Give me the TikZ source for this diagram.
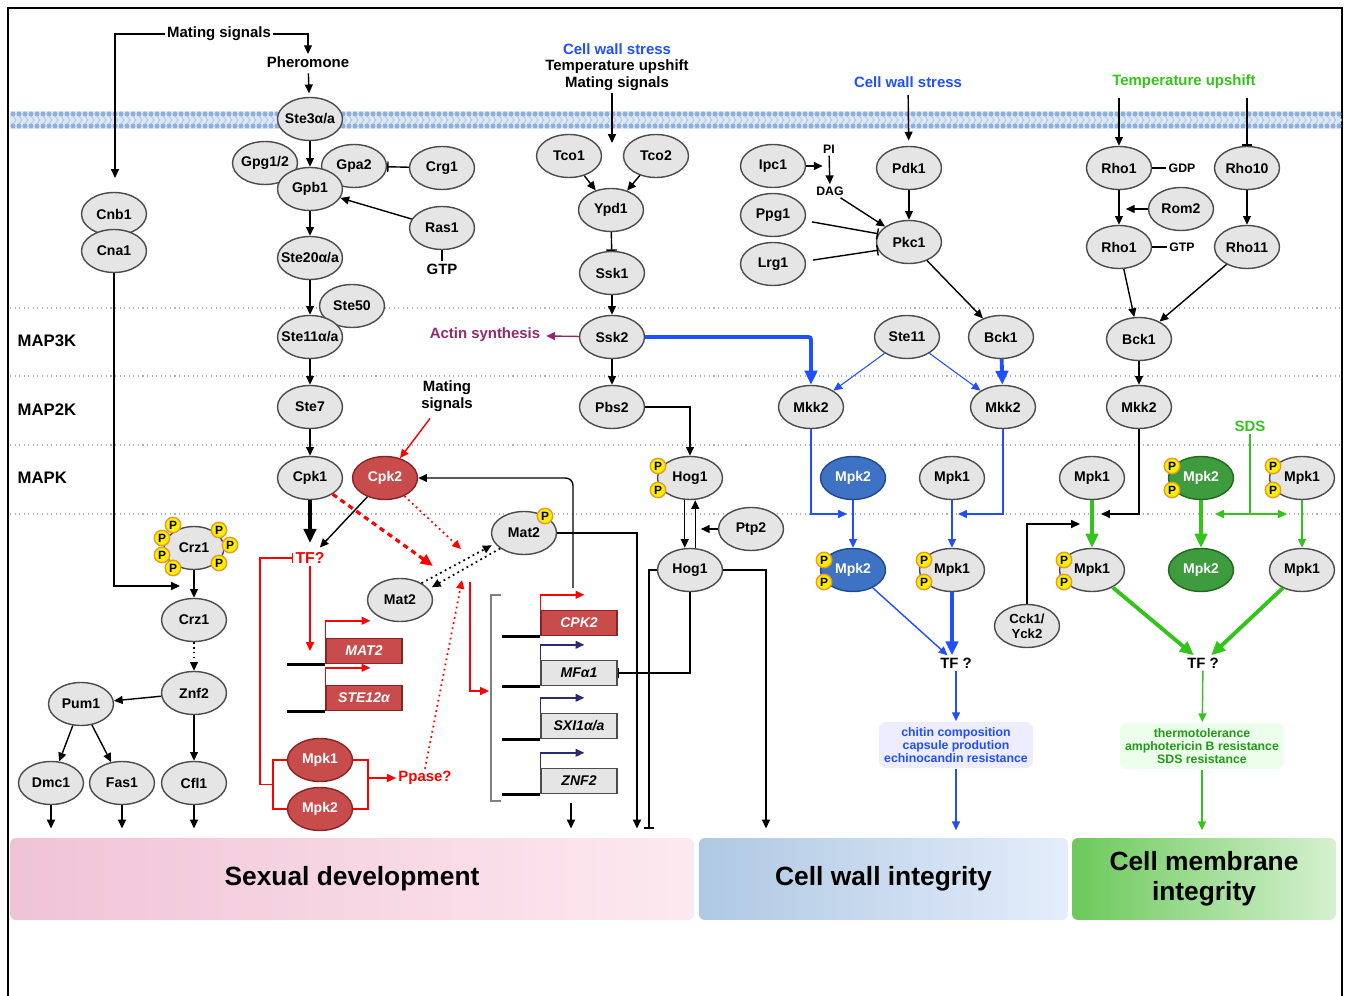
\documentclass[tikz,border=0pt]{standalone}
\usepackage{fontspec}
\setmainfont{Liberation Sans}
\usetikzlibrary{arrows.meta,shapes.geometric,calc}

\definecolor{memb}{HTML}{8FB0DC}
\definecolor{membl}{HTML}{DCE7F5}
\definecolor{cpkred}{HTML}{C94C4C}
\definecolor{cpkdark}{HTML}{8A2424}
\definecolor{cwblue}{HTML}{1F4FFF}
\definecolor{mpkblue}{HTML}{3E72C4}
\definecolor{mpkbluedark}{HTML}{1D4A8C}
\definecolor{cmgreen}{HTML}{33C41A}
\definecolor{mpkgreen}{HTML}{3E9B3E}
\definecolor{mpkgreendark}{HTML}{1F6A1F}
\definecolor{actin}{HTML}{8C2C6E}
\definecolor{pyellow}{HTML}{FFEE00}
\definecolor{porange}{HTML}{E39B2E}
\definecolor{promnavy}{HTML}{2A2A6E}
\definecolor{txtgreen}{HTML}{229A18}
\definecolor{sexL}{HTML}{F0C3D6}
\definecolor{sexR}{HTML}{FDE9F0}
\definecolor{cwL}{HTML}{AFC8E2}
\definecolor{cwR}{HTML}{E4EDFB}
\definecolor{cmL}{HTML}{6CC95A}
\definecolor{cmR}{HTML}{D6F1D1}

\begin{document}
\begin{tikzpicture}[x=0.02cm, y=-0.02cm, line width=0.8pt,
    >={Triangle[length=5pt,width=4.5pt]},
    main/.style = {draw=black!70, fill=black!10, ellipse, minimum width=1.3cm, minimum height=0.86cm, inner ysep=0pt, inner xsep=-6pt, font=\bfseries\fontsize{8}{9}\selectfont},
    redmain/.style = {main, fill=cpkred, draw=cpkdark, text=white},
    bluemain/.style = {main, fill=mpkblue, draw=mpkbluedark, text=white},
    greenmain/.style = {main, fill=mpkgreen, draw=mpkgreendark, text=white},
    phos/.style = {circle, draw=porange, fill=pyellow, line width=0.8pt, minimum size=0.31cm, inner sep=0pt, font=\bfseries\fontsize{6.8}{7}\selectfont},
    lbl/.style = {font=\bfseries\fontsize{8.5}{10}\selectfont, inner sep=1pt, align=center},
    maplbl/.style = {font=\bfseries\fontsize{9.5}{11}\selectfont, inner sep=0pt, anchor=west},
    smalltxt/.style = {font=\bfseries\fontsize{7}{8}\selectfont, inner sep=1pt},
    gene/.style = {draw=black!70, fill=black!10, minimum width=1.52cm, minimum height=0.5cm, inner sep=0pt, font=\bfseries\itshape\fontsize{8}{9}\selectfont},
    redgene/.style = {gene, fill=cpkred, draw=cpkdark, text=white},
    thk/.style = {line width=2.2pt, -{Triangle[length=8pt,width=7pt]}},
    tee/.style = {-{Bar[width=6pt]}},
    tierline/.style = {gray!60, dotted, line width=0.6pt},
    resbox/.style = {rounded corners=0.15cm, inner sep=3pt, align=center, font=\bfseries\fontsize{7}{7.6}\selectfont},
    outcome/.style = {rounded corners=0.12cm, minimum height=1.64cm, inner sep=0pt, align=center, font=\bfseries\fontsize{15}{17}\selectfont}
]
\useasboundingbox (0,0) rectangle (1346,996);
\draw[line width=1.3pt] (8,996) -- (8,8) -- (1342,8) -- (1342,996);

% membrane
\fill[membl] (10,111) rectangle (1340,129);
\foreach \x in {13,19,...,1339} {
    \fill[memb] (\x,114) circle (0.05cm);
    \fill[memb] (\x,126) circle (0.05cm);
    \draw[memb!80, line width=0.35pt] (\x,116) -- (\x+3,120) -- (\x,124);
}

% kinase tiers
\foreach \y in {308,376,445,514} \draw[tierline] (10,\y) -- (1340,\y);
\node[maplbl] (map3k) at (17,341) {MAP3K};
\node[maplbl] (map2k) at (17,410) {MAP2K};
\node[maplbl] (mapk) at (17,478) {MAPK};

% outcomes
\node[outcome, left color=sexL, right color=sexR, minimum width=13.68cm] (sexbar) at (352,879) {Sexual development};
\node[outcome, left color=cwL, right color=cwR, minimum width=7.38cm] (cwbar) at (883.5,879) {Cell wall integrity};
\node[outcome, left color=cmL, right color=cmR, minimum width=5.28cm] (cmbar) at (1204,879) {Cell membrane\\integrity};

% pheromone pathway
\node[lbl] (mating) at (219,34) {Mating signals};
\node[lbl] (phero) at (308,62) {Pheromone};
\node[main] (ste3) at (310,119) {Ste3α/a};
\node[main] (gpg) at (265,163) {Gpg1/2};
\node[main] (gpa) at (354,166) {Gpa2};
\node[main] (gpb) at (310,189) {Gpb1};
\node[main] (crg) at (442,168) {Crg1};
\node[main] (ras) at (442,228) {Ras1};
\node[lbl] (gtp1) at (442,269) {GTP};
\node[main] (ste20) at (310,258) {Ste20α/a};
\node[main] (ste50) at (352,306) {Ste50};
\node[main] (ste11a) at (310,337) {Ste11α/a};
\node[main] (ste7) at (310,407) {Ste7};
\node[main] (cpk1) at (310,478) {Cpk1};
\node[redmain] (cpk2) at (385,478) {Cpk2};
\node[lbl] (mating2) at (447,396) {Mating\\signals};
\node[lbl, text=red, font=\bfseries\fontsize{9}{10}\selectfont] (tf1) at (310,558) {TF?};
\node[main] (mat2) at (400,600) {Mat2};
\node[main] (mat2p) at (524,533) {Mat2};
\node[phos] (mat2pp) at (545,516) {P};
\node[redmain] (mpk1r) at (320,760) {Mpk1};
\node[redmain] (mpk2r) at (320,809) {Mpk2};
\node[lbl, text=red] (ppase) at (425,778) {Ppase?};

\coordinate (cnbin) at (115,178);
\draw[->] (mating.west) -| (cnbin);
\draw[->] (mating.east) -| (phero.north);
\draw[->, shorten <=2pt, shorten >=2pt] (phero) -- (ste3);
\draw[->] (ste3) -- (gpb);
\draw[tee] (crg) -- (gpa);
\draw[->] (ras) -- (gpb);
\draw (ras) -- (gtp1);
\draw[->] (gpb) -- (ste20);
\draw[->] (ste20) -- (ste11a);
\draw[->] (ste11a) -- (ste7);
\draw[->] (ste7) -- (cpk1);
\draw[->, red, shorten <=3pt] (mating2) -- (cpk2);
\draw[thk, shorten >=4pt] (cpk1) -- (tf1);
\draw[->, shorten >=2pt] (cpk2) -- (tf1);
\coordinate (matx1) at (433,566);
\coordinate (matx2) at (461,549);
\draw[red, line width=1.8pt, dash pattern=on 3pt off 2.5pt, -{Triangle[length=7pt,width=6pt]}] (cpk1) -- (matx1);
\draw[red, dotted, line width=1pt, ->] (cpk2) -- (matx2);
\draw[dotted, line width=1pt, ->, shorten >=2pt] (mat2.38) -- (mat2p.200);
\draw[dotted, line width=1pt, ->, shorten >=2pt] (mat2p.213) -- (mat2.21);

% pheromone responsive genes
\node[redgene] (g_mat2) at (364,651) {MAT2};
\node[redgene] (g_ste12) at (364,698) {STE12α};
\node[redgene] (g_cpk2) at (579,623) {CPK2};
\node[gene] (g_mfa) at (579,673) {MFα1};
\node[gene] (g_sxi) at (579,726) {SXI1α/a};
\node[gene] (g_znf) at (579,781) {ZNF2};
\foreach \g in {g_mat2,g_ste12} {
    \draw[line width=1.6pt] (\g.south west) -- ++(-38,0);
    \draw[red, ->] (\g.north west) |- ++(45,-17);
}
\foreach \g/\c in {g_cpk2/red,g_mfa/promnavy,g_sxi/promnavy,g_znf/promnavy} {
    \draw[line width=1.6pt] (\g.south west) -- ++(-38,0);
    \draw[\c, ->] (\g.north west) |- ++(44,-15);
}
\draw[gray, line width=1pt] ($(g_cpk2.north west)+(-39,-15)$) -- ++(-10,0) |- ($(g_znf.south west)+(-39,7)$);
\draw[red, ->] (tf1.south) -- (tf1.south |- g_mat2.west);
\coordinate (brL) at ($(mpk1r.west)!0.5!(mpk2r.west)+(-14,0)$);
\coordinate (brR) at ($(mpk1r.east)+(15,0)$);
\draw[red] (mpk1r.west) -- ++(-14,0) |- (mpk2r.west);
\draw[red] (mpk1r.east) -- (brR) |- (mpk2r.east);
\draw[red, tee] (brL) -- ++(-13,0) |- (tf1.west);
\draw[red, ->] (brR |- ppase.west) -- (ppase.west);
\coordinate (ppaseend) at (462,580);
\draw[red, dotted, line width=1pt, ->] (ppase.north) -- (ppaseend);
\coordinate (redtop) at (470,582);
\coordinate (brkin) at (489,691);
\draw[red, ->] (redtop) |- (brkin);
\coordinate (cpkfb) at (573,588);
\draw[->, rounded corners=0.15cm] (cpkfb) |- (cpk2);
\coordinate (genesout) at (571,803);
\draw[->, shorten >=5pt] (genesout) -- (genesout |- sexbar.north);
\draw[->, shorten >=5pt] (mat2p.east) -| ($(sexbar.north)+(285,0)$);

% calcineurin pathway
\node[main] (cnb1) at (114,214) {Cnb1};
\node[main] (cna1) at (114,251) {Cna1};
\node[main, minimum width=1.2cm] (crz1p) at (194,548) {Crz1};
\foreach \px/\py [count=\i] in {173/525,162/538,162/555,173/568,219/530,230/545,219/563}
    \node[phos] (crzp\i) at (\px,\py) {P};
\node[main] (crz1) at (194,620) {Crz1};
\node[main] (znf2) at (194,693) {Znf2};
\node[main] (pum1) at (81,704) {Pum1};
\node[main] (dmc1) at (51,783) {Dmc1};
\node[main] (fas1) at (122,783) {Fas1};
\node[main] (cfl1) at (194,783) {Cfl1};
\coordinate (crzjoin) at (180,586);
\draw[->] (cna1) |- (crzjoin);
\draw[->] (crz1p) -- (crz1);
\draw[->, dotted] (crz1) -- (znf2);
\draw[->] (znf2) -- (pum1);
\draw[->] (pum1) -- (dmc1);
\draw[->] (pum1) -- (fas1);
\draw[->] (znf2) -- (cfl1);
\foreach \n in {dmc1,fas1,cfl1}
    \draw[->, shorten >=5pt] (\n.south) -- (\n.south |- sexbar.north);

% HOG pathway
\node[lbl, text=cwblue] (cws1) at (617,49) {Cell wall stress};
\node[lbl] (temp1) at (617,67) {Temperature upshift};
\node[lbl] (mate3) at (617,84) {Mating signals};
\node[main] (tco1) at (569,156) {Tco1};
\node[main] (tco2) at (656,156) {Tco2};
\node[main] (ypd1) at (611,210) {Ypd1};
\node[main] (ssk1) at (612,273) {Ssk1};
\node[main] (ssk2) at (612,337) {Ssk2};
\node[main] (pbs2) at (612,407) {Pbs2};
\node[lbl, text=actin] (actin) at (485,335) {Actin synthesis};
\node[main] (hog1p) at (690,478) {Hog1};
\node[phos] (hogp1) at (658,466) {P};
\node[phos] (hogp2) at (658,490) {P};
\node[main] (hog1) at (690,570) {Hog1};
\node[main] (ptp2) at (751,529) {Ptp2};
\coordinate (tcoin) at (612,143);
\draw[->] (mate3.south -| tcoin) -- (tcoin);
\draw[->] (tco1) -- (ypd1);
\draw[->] (tco2) -- (ypd1);
\draw[tee] (ypd1) -- (ssk1);
\draw[->] (ssk1) -- (ssk2);
\draw[->] (ssk2) -- (pbs2);
\draw[->, actin, shorten >=2pt] (ssk2) -- (actin);
\draw[->] (pbs2.east) -| (hog1p.north);
\draw[->] ([xshift=-3pt]hog1p.south) -- ([xshift=-3pt]hog1.north);
\draw[->] ([xshift=3pt]hog1.north) -- ([xshift=3pt]hog1p.south);
\draw[->] (ptp2.west) -- ++(-17,0);
\draw[tee] (hog1.south) |- (g_mfa.east);
\draw[tee, shorten >=5pt] (hog1.west) -| ($(sexbar.north)+(297,0)$);
\draw[->, shorten >=5pt] (hog1.east) -| ($(cwbar.north)+(-117.5,0)$);

% cell wall integrity pathway
\node[lbl, text=cwblue] (cws2) at (908,82) {Cell wall stress};
\node[main] (ipc1) at (773,166) {Ipc1};
\node[main] (ppg1) at (773,215) {Ppg1};
\node[main] (lrg1) at (773,264) {Lrg1};
\node[smalltxt] (pi) at (829,149) {PI};
\node[smalltxt] (dag) at (830,191) {DAG};
\node[main] (pdk1) at (909,168) {Pdk1};
\node[main] (pkc1) at (909,242) {Pkc1};
\node[main] (ste11) at (907,337) {Ste11};
\node[main] (bck1a) at (1001,337) {Bck1};
\node[main] (mkk2a) at (811,407) {Mkk2};
\node[main] (mkk2b) at (1003,407) {Mkk2};
\node[bluemain] (mpk2a) at (853,478) {Mpk2};
\node[bluemain] (mpk2ap) at (853,570) {Mpk2};
\node[phos] (mpk2app1) at (824,560) {P};
\node[phos] (mpk2app2) at (824,582) {P};
\node[main] (mpk1a) at (952,478) {Mpk1};
\node[main] (mpk1ap) at (952,570) {Mpk1};
\node[phos] (mpk1app1) at (924,560) {P};
\node[phos] (mpk1app2) at (924,582) {P};
\node[lbl] (tf2) at (956,663) {TF ?};
\node[resbox, fill=blue!7, text=cwblue] (cwout) at (956,745) {chitin composition\\capsule prodution\\echinocandin resistance};
\draw[->, shorten >=2pt] (ipc1.east) -- ++(20,0);
\draw[->] (pi) -- (dag);
\draw[->] (dag) -- (pkc1);
\draw[tee, shorten <=4pt] (ppg1.-10) -- (pkc1.165);
\draw[tee, shorten <=4pt] (lrg1.5) -- (pkc1.195);
\draw[->, shorten <=3pt, shorten >=3pt] (cws2) -- (pdk1);
\draw[->] (pdk1) -- (pkc1);
\draw[->] (pkc1) -- (bck1a);
\draw[cwblue, thk, rounded corners=0.05cm] (ssk2.east) -| (mkk2a.north);
\draw[->, cwblue, line width=0.6pt] (ste11) -- (mkk2a);
\draw[->, cwblue, line width=0.6pt] (ste11) -- (mkk2b);
\draw[cwblue, thk] (bck1a) -- (mkk2b);
\coordinate (cwj1) at (847,514);
\coordinate (cwj2) at (958,514);
\draw[->, cwblue] (mkk2a.south) |- (cwj1);
\draw[->, cwblue] (mkk2b.south) |- (cwj2);
\draw[->, cwblue] (mpk2a) -- (mpk2ap);
\draw[->, cwblue] (mpk1a) -- (mpk1ap);
\draw[->, cwblue] (mpk2ap) -- (tf2);
\draw[cwblue, thk] (mpk1ap) -- (mpk1ap |- tf2.north);
\draw[->, cwblue] (tf2) -- (cwout);
\draw[->, cwblue, shorten >=4pt] (cwout) -- (cwout.south |- cwbar.north);

% cell membrane integrity pathway
\node[lbl, text=cmgreen] (temp2) at (1184,82) {Temperature upshift};
\node[main] (rho1a) at (1119,168) {Rho1};
\node[main] (rho1b) at (1119,247) {Rho1};
\node[smalltxt] (gdp) at (1182,168) {GDP};
\node[smalltxt] (gtp2) at (1182,247) {GTP};
\node[main] (rom2) at (1181,209) {Rom2};
\node[main] (rho10) at (1247,168) {Rho10};
\node[main] (rho11) at (1247,247) {Rho11};
\node[main] (bck1b) at (1139,339) {Bck1};
\node[main] (mkk2c) at (1139,407) {Mkk2};
\node[main] (mpk1b) at (1092,478) {Mpk1};
\node[main] (mpk1bp) at (1092,570) {Mpk1};
\node[phos] (mpk1bpp1) at (1064,560) {P};
\node[phos] (mpk1bpp2) at (1064,582) {P};
\node[main, font=\bfseries\fontsize{7.5}{8.5}\selectfont, align=center] (cck1) at (1027,626) {Cck1/\\Yck2};
\node[greenmain] (mpk2b) at (1201,478) {Mpk2};
\node[phos] (mpk2bp1) at (1172,466) {P};
\node[phos] (mpk2bp2) at (1172,490) {P};
\node[greenmain] (mpk2bb) at (1201,570) {Mpk2};
\node[lbl, text=cmgreen] (sds) at (1250,426) {SDS};
\node[main] (mpk1c) at (1302,478) {Mpk1};
\node[phos] (mpk1cp1) at (1273,466) {P};
\node[phos] (mpk1cp2) at (1273,490) {P};
\node[main] (mpk1cc) at (1302,570) {Mpk1};
\node[lbl] (tf3) at (1203,663) {TF ?};
\node[resbox, fill=green!8, text=txtgreen] (cmout) at (1202,746) {thermotolerance\\amphotericin B resistance\\SDS resistance};
\draw[->, shorten <=4pt] (temp2.south -| rho1a) -- (rho1a);
\draw[tee, shorten <=4pt] (temp2.south -| rho10) -- (rho10);
\draw (rho1a) -- (gdp);
\draw (rho1b) -- (gtp2);
\draw[->] (rho1a) -- (rho1b);
\draw[->] (rom2.west) -- ++(-22,0);
\draw[->] (rho10) -- (rho11);
\draw[->] (rho1b) -- (bck1b);
\draw[->] (rho11) -- (bck1b);
\draw[->] (bck1b) -- (mkk2c);
\coordinate (cmj1) at (1101,514);
\coordinate (cmj2) at (1080,524);
\draw[->] (mkk2c.south) |- (cmj1);
\draw[->] (cck1.north) |- (cmj2);
\draw[cmgreen, thk] (mpk1b) -- (mpk1bp);
\draw[cmgreen, thk] (mpk2b) -- (mpk2bb);
\coordinate (sdsj) at (1250,514);
\coordinate (sdsl) at (1215,514);
\coordinate (sdsr) at (1287,514);
\draw[cmgreen] (sds) -- (sdsj);
\draw[cmgreen, ->] (sdsj) -- (sdsl);
\draw[cmgreen, ->] (sdsj) -- (sdsr);
\draw[cmgreen, ->] (mpk1c) -- (mpk1cc);
\draw[cmgreen, thk] (mpk1bp) -- (tf3);
\draw[cmgreen, thk] (mpk1cc) -- (tf3);
\draw[cmgreen, ->] (tf3) -- (cmout);
\draw[cmgreen, ->, shorten >=4pt] (cmout) -- (cmout.south |- cmbar.north);
\end{tikzpicture}
\end{document}
